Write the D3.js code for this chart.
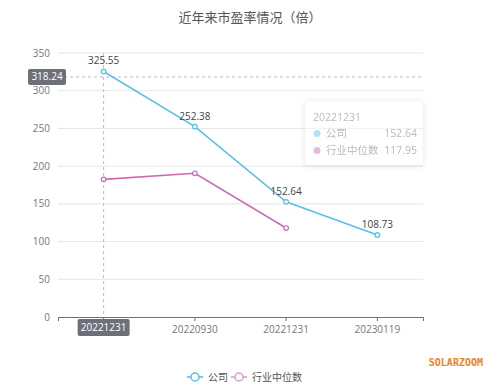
<!DOCTYPE html>
<html lang="zh">
<head>
<meta charset="utf-8">
<title>近年来市盈率情况</title>
<script src="https://cdn.jsdelivr.net/npm/d3@7"></script>
<style>
  body { margin: 0; background: #fff; }
  svg { display: block; font-family: "Open Sans", "Noto Sans CJK SC", sans-serif; }
</style>
</head>
<body>
<div id="chart"></div>
<script>
var categories = ["20221231", "20220930", "20221231", "20230119"];
var company = [325.55, 252.38, 152.64, 108.73];
var industry = [182.5, 190.5, 117.95, null];
var yTicks = [0, 50, 100, 150, 200, 250, 300, 350];
var seriesNames = ["公司", "行业中位数"];
var pointerValue = 318.24;
var tipIndex = 2;

var width = 500, height = 389;
var margin = {top: 53, right: 77, bottom: 72, left: 58};
var blue = "#56c1ea", pink = "#cc6bb2";

var svg = d3.select("#chart").append("svg")
  .attr("width", width)
  .attr("height", height);

var x = d3.scaleBand()
  .domain(d3.range(categories.length))
  .range([margin.left, width - margin.right]);

var y = d3.scaleLinear()
  .domain([0, 350])
  .range([height - margin.bottom, margin.top]);

function cx(i) { return x(i) + x.bandwidth() / 2; }

// title
svg.append("text")
  .attr("x", 250)
  .attr("y", 22)
  .attr("text-anchor", "middle")
  .style("font-size", "13px")
  .style("fill", "#555")
  .text("近年来市盈率情况（倍）");

// grid
svg.append("g").selectAll("line")
  .data(yTicks.filter(function(d) { return d > 0; }))
  .enter().append("line")
  .attr("x1", margin.left).attr("x2", width - margin.right)
  .attr("y1", function(d) { return y(d); })
  .attr("y2", function(d) { return y(d); })
  .attr("stroke", "#e6e6e6");

// y labels
svg.append("g").selectAll("text")
  .data(yTicks)
  .enter().append("text")
  .attr("x", margin.left - 8)
  .attr("y", function(d) { return y(d); })
  .attr("dy", "0.35em")
  .attr("text-anchor", "end")
  .style("font-size", "10px")
  .style("fill", "#777")
  .text(function(d) { return d; });

// x axis (first label is covered by the pointer label box)
var xAxis = d3.axisBottom(x)
  .tickSize(4)
  .tickFormat(function(i) { return i === 0 ? "" : categories[i]; });
var gx = svg.append("g")
  .attr("transform", "translate(0," + y(0) + ")")
  .call(xAxis);
gx.select(".domain").attr("stroke", "#6e7079");
gx.selectAll(".tick line").attr("stroke", "#6e7079");
gx.selectAll(".tick text")
  .attr("dy", "0.9em")
  .style("font-size", "10px")
  .style("fill", "#777")
  .style("font-family", "'Open Sans', sans-serif");

// crosshair
var pointerY = y(pointerValue);
svg.append("line")
  .attr("x1", cx(0)).attr("x2", cx(0))
  .attr("y1", margin.top).attr("y2", y(0))
  .attr("stroke", "#bbb").attr("stroke-dasharray", "3,3");
svg.append("line")
  .attr("x1", margin.left).attr("x2", width - margin.right)
  .attr("y1", pointerY).attr("y2", pointerY)
  .attr("stroke", "#bbb").attr("stroke-dasharray", "3,3");

// lines
var line = d3.line()
  .defined(function(d) { return d != null; })
  .x(function(d, i) { return cx(i); })
  .y(function(d) { return y(d); });

function drawSeries(data, color) {
  svg.append("path")
    .datum(data)
    .attr("fill", "none")
    .attr("stroke", color)
    .attr("stroke-width", 1.6)
    .attr("d", line);
  svg.append("g").selectAll("circle")
    .data(data.map(function(d, i) { return {v: d, i: i}; }).filter(function(d) { return d.v != null; }))
    .enter().append("circle")
    .attr("cx", function(d) { return cx(d.i); })
    .attr("cy", function(d) { return y(d.v); })
    .attr("r", 2.3)
    .attr("fill", "#fff")
    .attr("stroke", color)
    .attr("stroke-width", 1.2);
}
drawSeries(industry, pink);
drawSeries(company, blue);

// value labels
svg.append("g").selectAll("text")
  .data(company)
  .enter().append("text")
  .attr("x", function(d, i) { return cx(i); })
  .attr("y", function(d) { return y(d) - 7; })
  .attr("text-anchor", "middle")
  .style("font-size", "10px")
  .style("fill", "#444")
  .text(function(d) { return d.toFixed(2); });

// axis pointer labels
var ylab = svg.append("g");
ylab.append("rect")
  .attr("x", 28).attr("y", pointerY - 8)
  .attr("width", 38).attr("height", 16).attr("rx", 2)
  .attr("fill", "#6e7079");
ylab.append("text")
  .attr("x", 47).attr("y", pointerY)
  .attr("dy", "0.35em")
  .attr("text-anchor", "middle")
  .style("font-size", "10px")
  .style("fill", "#fff")
  .text(pointerValue.toFixed(2));

var xlab = svg.append("g");
xlab.append("rect")
  .attr("x", cx(0) - 26).attr("y", y(0) + 2)
  .attr("width", 52).attr("height", 17).attr("rx", 2)
  .attr("fill", "#6e7079");
xlab.append("text")
  .attr("x", cx(0)).attr("y", y(0) + 10.5)
  .attr("dy", "0.35em")
  .attr("text-anchor", "middle")
  .style("font-size", "10px")
  .style("fill", "#fff")
  .text(categories[0]);

// faded tooltip
var tip = svg.append("g")
  .attr("transform", "translate(305,101)")
  .style("opacity", 0.45);
tip.append("rect")
  .attr("width", 118).attr("height", 64).attr("rx", 3)
  .attr("fill", "#fff")
  .attr("stroke", "#eee")
  .style("filter", "drop-shadow(0 1px 3px rgba(0,0,0,0.2))");
tip.append("text")
  .attr("x", 8).attr("y", 20)
  .style("font-size", "10.5px").style("fill", "#666")
  .text(categories[tipIndex]);
[company[tipIndex], industry[tipIndex]].forEach(function(v, k) {
  var ty = 36 + k * 17;
  tip.append("circle")
    .attr("cx", 12).attr("cy", ty - 3.5).attr("r", 3.5)
    .attr("fill", k === 0 ? blue : pink);
  tip.append("text")
    .attr("x", 21).attr("y", ty)
    .style("font-size", "10.5px").style("fill", "#666")
    .text(seriesNames[k]);
  tip.append("text")
    .attr("x", 112).attr("y", ty)
    .attr("text-anchor", "end")
    .style("font-size", "10.5px").style("fill", "#666")
    .text(v.toFixed(2));
});

// legend
var legend = svg.append("g");
var legendX = [187, 231];
[blue, "#de9ccd"].forEach(function(c, k) {
  var lx = legendX[k], ly = 377;
  legend.append("line")
    .attr("x1", lx).attr("x2", lx + 16)
    .attr("y1", ly).attr("y2", ly)
    .attr("stroke", c).attr("stroke-width", 1.6);
  legend.append("circle")
    .attr("cx", lx + 8).attr("cy", ly).attr("r", 4)
    .attr("fill", "#fff").attr("stroke", c).attr("stroke-width", 1.5);
  legend.append("text")
    .attr("x", lx + 21).attr("y", ly)
    .attr("dy", "0.35em")
    .style("font-size", "10px").style("fill", "#555")
    .text(seriesNames[k]);
});

// watermark
svg.append("text")
  .attr("x", 483).attr("y", 366)
  .attr("text-anchor", "end")
  .style("font-family", "'DejaVu Sans Mono', monospace")
  .style("font-size", "10px")
  .style("font-weight", "bold")
  .style("fill", "#f07f1e")
  .text("SOLARZOOM");
</script>
</body>
</html>
